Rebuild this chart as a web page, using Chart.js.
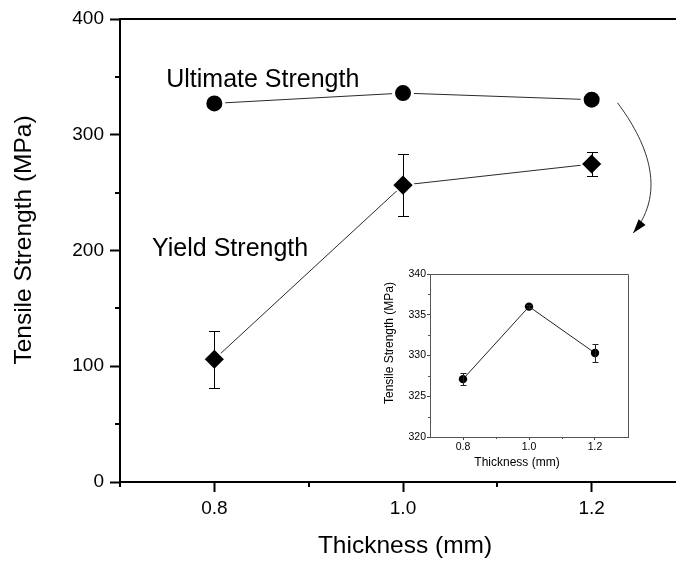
<!DOCTYPE html>
<html>
<head>
<meta charset="utf-8">
<script src="https://cdn.jsdelivr.net/npm/chart.js@4.4.1/dist/chart.umd.min.js"></script>
<style>
  html, body { margin: 0; padding: 0; background: #fff; overflow: hidden; }
  #wrap { position: relative; width: 676px; height: 563px; overflow: hidden; background: #fff; }
  #main { position: absolute; left: 0; top: 0; }
  #inset { position: absolute; left: 370px; top: 262px; }
</style>
</head>
<body>
<div id="wrap">
  <canvas id="main" width="686" height="563"></canvas>
  <canvas id="inset" width="268" height="210"></canvas>
</div>
<script>
// Sheet thickness (mm) and measured strengths (MPa)
const thickness = [0.8, 1.0, 1.2];
const ultimateStrength = [327.1, 336.0, 330.3];
const ultimateError = [0.7, 0.2, 1.1];
const yieldStrength = [106.0, 256.5, 274.7];
const yieldError = [24.6, 26.5, 10.5];

// Axis ticks
const mainXTicks = [0.8, 1.0, 1.2];
const mainXMinor = [0.7, 0.9, 1.1];
const mainYTicks = [0, 100, 200, 300, 400];
const mainYMinor = [50, 150, 250, 350];
const insetXTicks = [0.8, 1.0, 1.2];
const insetXMinor = [0.9, 1.1];
const insetYTicks = [320, 325, 330, 335, 340];
const insetYMinor = [322.5, 327.5, 332.5, 337.5];

const FONT = "'Liberation Sans', Arial, Helvetica, sans-serif";

const toPoints = (xs, ys) => xs.map((x, i) => ({ x: x, y: ys[i] }));
const fixedTicks = values => scale => { scale.ticks = values.map(v => ({ value: v })); };
const noEdgePadding = size => scale => {
  if (scale.isHorizontal()) scale.height = size; else scale.width = size;
  scale.paddingLeft = scale.paddingRight = scale.paddingTop = scale.paddingBottom = 0;
};

// Vertical error bars with caps, drawn over the markers
function makeErrorBars(capHalf, color, width) {
  return {
    id: 'errorBars',
    afterDatasetsDraw(chart) {
      const { ctx, scales: { x, y } } = chart;
      ctx.save();
      ctx.strokeStyle = color;
      ctx.lineWidth = width;
      chart.data.datasets.forEach(ds => {
        if (!ds.errors) return;
        ds.data.forEach((p, i) => {
          const e = ds.errors[i];
          if (!e) return;
          const px = Math.round(x.getPixelForValue(p.x)) + 0.5;
          const yt = Math.round(y.getPixelForValue(p.y + e)) + 0.5;
          const yb = Math.round(y.getPixelForValue(p.y - e)) + 0.5;
          ctx.beginPath();
          ctx.moveTo(px, yt); ctx.lineTo(px, yb);
          ctx.moveTo(px - capHalf, yt); ctx.lineTo(px + capHalf, yt);
          ctx.moveTo(px - capHalf, yb); ctx.lineTo(px + capHalf, yb);
          ctx.stroke();
        });
      });
      ctx.restore();
    }
  };
}

// Short minor tick marks outside the bottom and left axes
function makeMinorTicks(xVals, yVals, len, width, color) {
  return {
    id: 'minorTicks',
    afterDraw(chart) {
      const { ctx, chartArea: a, scales: { x, y } } = chart;
      ctx.save();
      ctx.strokeStyle = color;
      ctx.lineWidth = width;
      const off = width % 2 ? 0.5 : 0;
      ctx.beginPath();
      xVals.forEach(v => {
        const px = Math.round(x.getPixelForValue(v)) + off;
        ctx.moveTo(px, a.bottom); ctx.lineTo(px, a.bottom + len);
      });
      yVals.forEach(v => {
        const py = Math.round(y.getPixelForValue(v)) + off;
        ctx.moveTo(a.left - len, py); ctx.lineTo(a.left, py);
      });
      ctx.stroke();
      ctx.restore();
    }
  };
}

// Top (and optionally right) frame lines
function makeFrame(width, color, withRight, extendRight) {
  return {
    id: 'frame',
    afterDraw(chart) {
      const { ctx, chartArea: a } = chart;
      ctx.save();
      ctx.strokeStyle = color;
      ctx.lineWidth = width;
      const off = width % 2 ? 0.5 : 0;
      const top = Math.round(a.top) + off;
      const right = extendRight ? chart.width : Math.round(a.right) + off;
      ctx.beginPath();
      ctx.moveTo(Math.round(a.left) - width / 2, top);
      ctx.lineTo(right, top);
      if (withRight) ctx.lineTo(right, Math.round(a.bottom) + off);
      ctx.stroke();
      ctx.restore();
    }
  };
}

// Free text: either at value coordinates (vx, vy) or at fixed canvas positions
function makeTextLayer(items) {
  return {
    id: 'textLayer',
    afterDraw(chart) {
      const { ctx, scales: { x, y } } = chart;
      items.forEach(it => {
        ctx.save();
        ctx.font = it.font;
        ctx.fillStyle = '#000';
        ctx.textAlign = it.align || 'center';
        ctx.textBaseline = it.baseline || 'middle';
        const px = it.vx !== undefined ? x.getPixelForValue(it.vx) : it.px;
        const py = it.vy !== undefined ? y.getPixelForValue(it.vy) : it.py;
        ctx.translate(px, py);
        if (it.rotate) ctx.rotate(it.rotate);
        ctx.fillText(it.text, 0, 0);
        ctx.restore();
      });
    }
  };
}

// Curved pointer from the ultimate-strength curve down to the inset
function makeArrow(pts, color) {
  return {
    id: 'arrow',
    afterDraw(chart) {
      const { ctx, scales: { x, y } } = chart;
      const p = pts.map(q => [x.getPixelForValue(q[0]), y.getPixelForValue(q[1])]);
      ctx.save();
      ctx.strokeStyle = color;
      ctx.fillStyle = '#000';
      ctx.lineWidth = 1;
      ctx.beginPath();
      ctx.moveTo(p[0][0], p[0][1]);
      ctx.bezierCurveTo(p[1][0], p[1][1], p[2][0], p[2][1], p[3][0], p[3][1]);
      ctx.stroke();
      const ang = Math.atan2(p[3][1] - p[2][1], p[3][0] - p[2][0]);
      const L = 14, W = 4.5;
      const bx = p[3][0] - L * Math.cos(ang), by = p[3][1] - L * Math.sin(ang);
      ctx.beginPath();
      ctx.moveTo(p[3][0], p[3][1]);
      ctx.lineTo(bx + W * Math.sin(ang), by - W * Math.cos(ang));
      ctx.lineTo(bx - W * Math.sin(ang), by + W * Math.cos(ang));
      ctx.closePath();
      ctx.fill();
      ctx.restore();
    }
  };
}

const arrowPath = [[1.2274, 327.6], [1.2568, 295.5], [1.2812, 252.3], [1.2441, 215.1]];

new Chart(document.getElementById('main'), {
  type: 'scatter',
  data: {
    datasets: [
      {
        label: 'Ultimate Strength',
        data: toPoints(thickness, ultimateStrength),
        errors: ultimateError,
        showLine: true,
        borderColor: '#2a2a2a',
        borderWidth: 1,
        pointStyle: 'circle',
        pointRadius: 9.5,
        pointHoverRadius: 9.5,
        pointBackgroundColor: '#000',
        pointBorderColor: '#fff',
        pointBorderWidth: 3
      },
      {
        label: 'Yield Strength',
        data: toPoints(thickness, yieldStrength),
        errors: yieldError,
        showLine: true,
        borderColor: '#2a2a2a',
        borderWidth: 1,
        pointStyle: 'rectRot',
        pointRadius: 11,
        pointHoverRadius: 11,
        pointBackgroundColor: '#000',
        pointBorderColor: '#fff',
        pointBorderWidth: 2
      }
    ]
  },
  options: {
    responsive: false,
    animation: false,
    devicePixelRatio: 1,
    layout: { autoPadding: false, padding: { top: 19, left: 0, right: 0, bottom: 0 } },
    plugins: { legend: { display: false }, tooltip: { enabled: false } },
    scales: {
      x: {
        type: 'linear', min: 0.7, max: 1.3,
        afterBuildTicks: fixedTicks(mainXTicks),
        afterFit: noEdgePadding(81),
        ticks: { callback: v => v.toFixed(1), color: '#000', font: { family: FONT, size: 19 }, padding: 5, maxRotation: 0, autoSkip: false },
        grid: { display: true, drawOnChartArea: false, drawTicks: true, tickLength: 10, tickWidth: 2, tickColor: '#000' },
        border: { display: true, color: '#000', width: 2 }
      },
      y: {
        type: 'linear', min: 0, max: 400,
        afterBuildTicks: fixedTicks(mainYTicks),
        afterFit: noEdgePadding(120),
        ticks: { color: '#000', font: { family: FONT, size: 19 }, padding: 6, autoSkip: false },
        grid: { display: true, drawOnChartArea: false, drawTicks: true, tickLength: 10, tickWidth: 2, tickColor: '#000' },
        border: { display: true, color: '#000', width: 2 }
      }
    }
  },
  plugins: [
    makeFrame(2, '#000', false, true),
    makeMinorTicks(mainXMinor, mainYMinor, 5, 2, '#000'),
    makeErrorBars(5.5, '#000', 1),
    makeArrow(arrowPath, '#333'),
    makeTextLayer([
      { text: 'Ultimate Strength', vx: 0.749, vy: 341, align: 'left', baseline: 'alphabetic', font: `25px ${FONT}` },
      { text: 'Yield Strength', vx: 0.734, vy: 195.5, align: 'left', baseline: 'alphabetic', font: `25px ${FONT}` },
      { text: 'Thickness (mm)', px: 405, py: 553, baseline: 'alphabetic', font: `24.5px ${FONT}` },
      { text: 'Tensile Strength (MPa)', px: 24, py: 240, rotate: -Math.PI / 2, font: `24.5px ${FONT}` }
    ])
  ]
});

new Chart(document.getElementById('inset'), {
  type: 'scatter',
  data: {
    datasets: [
      {
        label: 'Ultimate Strength',
        data: toPoints(thickness, ultimateStrength),
        errors: ultimateError,
        showLine: true,
        borderColor: '#222',
        borderWidth: 1,
        pointStyle: 'circle',
        pointRadius: 4.2,
        pointHoverRadius: 4.2,
        pointBackgroundColor: '#000',
        pointBorderColor: '#000',
        pointBorderWidth: 0
      }
    ]
  },
  options: {
    responsive: false,
    animation: false,
    devicePixelRatio: 1,
    layout: { autoPadding: false, padding: { top: 12, left: 0, right: 10, bottom: 0 } },
    plugins: { legend: { display: false }, tooltip: { enabled: false } },
    scales: {
      x: {
        type: 'linear', min: 0.7, max: 1.3,
        afterBuildTicks: fixedTicks(insetXTicks),
        afterFit: noEdgePadding(35),
        ticks: { callback: v => v.toFixed(1), color: '#000', font: { family: FONT, size: 10.5 }, padding: 1, maxRotation: 0, autoSkip: false },
        grid: { display: true, drawOnChartArea: false, drawTicks: true, tickLength: 3, tickWidth: 1, tickColor: '#444' },
        border: { display: true, color: '#555', width: 1 }
      },
      y: {
        type: 'linear', min: 320, max: 340,
        afterBuildTicks: fixedTicks(insetYTicks),
        afterFit: noEdgePadding(60),
        ticks: { color: '#000', font: { family: FONT, size: 10.5 }, padding: 1, autoSkip: false },
        grid: { display: true, drawOnChartArea: false, drawTicks: true, tickLength: 3, tickWidth: 1, tickColor: '#444' },
        border: { display: true, color: '#555', width: 1 }
      }
    }
  },
  plugins: [
    makeFrame(1, '#555', true, false),
    makeMinorTicks(insetXMinor, insetYMinor, 2, 1, '#555'),
    makeErrorBars(3, '#222', 1),
    makeTextLayer([
      { text: 'Thickness (mm)', px: 147, py: 201, font: `12px ${FONT}` },
      { text: 'Tensile Strength (MPa)', px: 20, py: 81, rotate: -Math.PI / 2, font: `12px ${FONT}` }
    ])
  ]
});
</script>
</body>
</html>
